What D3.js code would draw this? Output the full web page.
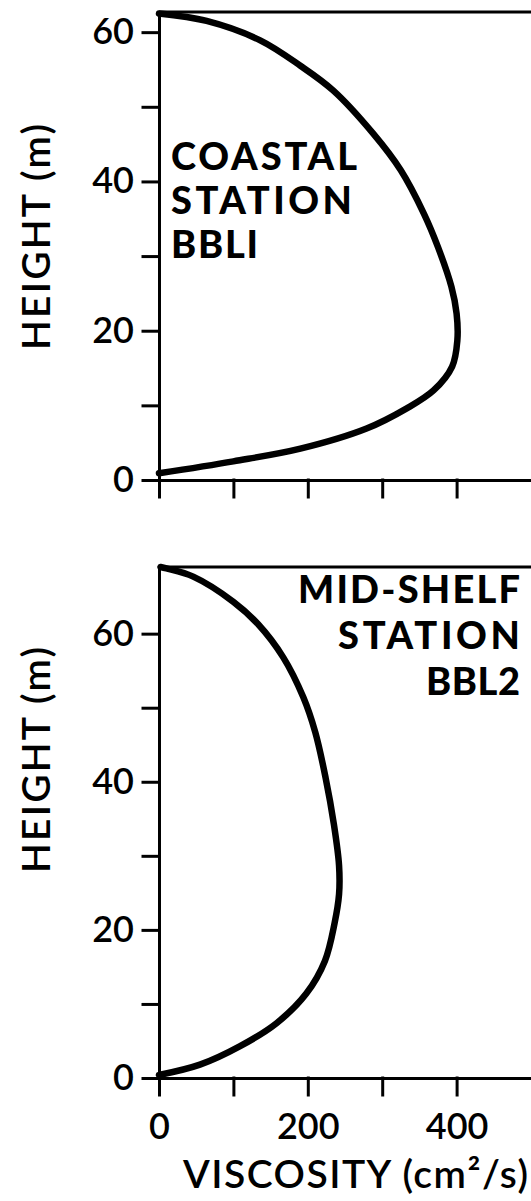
<!DOCTYPE html>
<meta charset="utf-8">
<style>
body { margin: 0; background: #fff; }
.axis path, .axis line { stroke: #000; stroke-width: 3px; stroke-linecap: square; }
.axis text { font: 600 36px Lato, sans-serif; fill: #000; }
.title { font: 600 39px Lato, sans-serif; fill: #000; }
.note { font: 900 38px Lato, sans-serif; fill: #000; }
.profile { fill: none; stroke: #000; stroke-width: 6.5px; stroke-linejoin: round; stroke-linecap: round; }
</style>
<svg width="531" height="1201"></svg>
<script src="https://d3js.org/d3.v7.min.js"></script>
<script>

// coastal station BBL1 (height m, viscosity cm2/s)
var coastalHeight = [0.9, 2.5, 4.2, 6.9, 9.6, 12, 15.2, 18.7, 22.3, 25.9, 31.2, 35.7, 41.5, 46.4, 52.2, 55.5, 58.9, 61.5, 62.5];
var coastalVisc   = [0, 100, 190, 279, 333, 369, 394, 401, 400, 393, 375, 356, 325, 288, 234, 190, 136, 64, 0];

// mid-shelf station BBL2
var midHeight = [0.4, 1.8, 4.3, 7.4, 11.4, 15.8, 20.9, 24.8, 28.7, 34.3, 40.5, 46.7, 51.4, 56.8, 61.3, 64.3, 67.7, 68.8, 69];
var midVisc   = [0, 55, 109, 158, 198, 223, 236, 242, 242, 235, 224, 210, 194, 167, 133, 100, 46, 10, 2];

var heightTicks = [0, 10, 20, 30, 40, 50, 60],
    viscTicks = [0, 100, 200, 300, 400],
    viscLabels = [0, 200, 400];

var svg = d3.select("svg");

var x = d3.scaleLinear().domain([0, 500]).range([159, 531]);

var line = d3.line().curve(d3.curveCatmullRom.alpha(0.5));

function panel(yMax, top, bottom, heights, viscs, showLabels, titleY) {
  var y = d3.scaleLinear().domain([0, yMax]).range([bottom, top]);
  var g = svg.append("g");

  // top edge of frame
  g.append("line")
      .attr("x1", x(0)).attr("x2", x(500))
      .attr("y1", y(yMax)).attr("y2", y(yMax))
      .style("stroke", "#000").style("stroke-width", "3px");

  g.append("g")
      .attr("class", "axis")
      .attr("transform", "translate(" + x(0) + ",0)")
      .call(d3.axisLeft(y).tickValues(heightTicks).tickSize(16).tickSizeOuter(0).tickPadding(9)
        .tickFormat(function(d) { return d % 20 === 0 ? d : ""; }));

  g.append("g")
      .attr("class", "axis")
      .attr("transform", "translate(0," + y(0) + ")")
      .call(d3.axisBottom(x).tickValues(viscTicks).tickSize(17).tickSizeOuter(0).tickPadding(18)
        .tickFormat(function(d) { return showLabels && viscLabels.indexOf(d) >= 0 ? d : ""; }));

  g.append("path")
      .attr("class", "profile")
      .attr("d", line(heights.map(function(h, i) { return [x(viscs[i]), y(h)]; })));

  g.append("text")
      .attr("class", "title")
      .attr("transform", "translate(36," + titleY + ") rotate(-90)")
      .attr("text-anchor", "middle")
      .attr("dy", "0.36em")
      .attr("textLength", 226)
      .attr("lengthAdjust", "spacing")
      .text("HEIGHT (m)");

  return g;
}

var g1 = panel(62.7, 12, 480, coastalHeight, coastalVisc, false, 237);
var g2 = panel(69, 567, 1078, midHeight, midVisc, true, 760);

var note1 = [["COASTAL", 186], ["STATION", 181], ["BBLI", 87]];
g1.selectAll(".note").data(note1).enter().append("text")
    .attr("class", "note")
    .attr("x", 171)
    .attr("y", function(d, i) { return 170 + i * 44; })
    .attr("textLength", function(d) { return d[1]; })
    .attr("lengthAdjust", "spacing")
    .text(function(d) { return d[0]; });

var note2 = [["MID-SHELF", 222], ["STATION", 182], ["BBL2", 94]];
g2.selectAll(".note").data(note2).enter().append("text")
    .attr("class", "note")
    .attr("x", 520)
    .attr("text-anchor", "end")
    .attr("y", function(d, i) { return 603 + i * 46; })
    .attr("textLength", function(d) { return d[1]; })
    .attr("lengthAdjust", "spacing")
    .text(function(d) { return d[0]; });

svg.append("text")
    .attr("class", "title")
    .attr("x", 183)
    .attr("y", 1188)
    .attr("textLength", 345)
    .attr("lengthAdjust", "spacing")
    .text("VISCOSITY (cm²/s)");

</script>
